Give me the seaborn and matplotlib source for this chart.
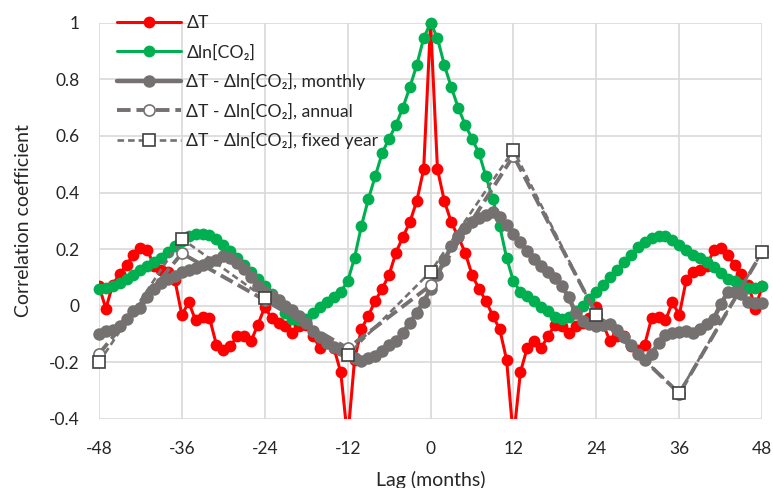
import numpy as np
import pandas as pd
import seaborn as sns
import matplotlib
matplotlib.use("Agg")
import matplotlib.pyplot as plt

sns.set_style("white")
plt.rcParams['font.family'] = ['Lato', 'DejaVu Sans']
plt.rcParams['axes.unicode_minus'] = False

# lags in months
lags = list(range(-48, 49))

# autocorrelation of dT
dT = [0.07, -0.01, 0.075, 0.112, 0.145, 0.18, 0.203, 0.198, 0.14, 0.125, 0.12, 0.09,
      -0.032, 0.012, -0.052, -0.038, -0.043, -0.137, -0.155, -0.143, -0.108, -0.108, -0.126, -0.067,
      -0.005, -0.043, -0.06, -0.073, -0.096, -0.073, -0.067, -0.108, -0.149, -0.123, -0.148, -0.235,
      -0.47, -0.19, -0.082, -0.035, 0.018, 0.06, 0.11, 0.188, 0.244, 0.295, 0.37, 0.482,
      1.0,
      0.482, 0.37, 0.295, 0.244, 0.188, 0.11, 0.06, 0.018, -0.035, -0.082, -0.19, -0.47,
      -0.235, -0.148, -0.123, -0.149, -0.108, -0.067, -0.073, -0.096, -0.073, -0.06, -0.043, -0.005,
      -0.067, -0.126, -0.108, -0.108, -0.143, -0.155, -0.137, -0.043, -0.038, -0.052, 0.012, -0.032,
      0.09, 0.12, 0.125, 0.14, 0.198, 0.203, 0.18, 0.145, 0.112, 0.075, -0.01, 0.07]

# autocorrelation of dln[CO2]
dco2 = [0.06, 0.062, 0.07, 0.08, 0.095, 0.11, 0.125, 0.14, 0.155, 0.17, 0.19, 0.21,
        0.23, 0.245, 0.255, 0.255, 0.25, 0.235, 0.215, 0.195, 0.17, 0.145, 0.12, 0.095,
        0.07, 0.04, 0.01, -0.025, -0.045, -0.05, -0.045, -0.025, -0.005, 0.015, 0.03, 0.05,
        0.086, 0.17, 0.283, 0.377, 0.458, 0.54, 0.59, 0.64, 0.70, 0.772, 0.85, 0.945,
        1.0,
        0.945, 0.85, 0.772, 0.70, 0.64, 0.59, 0.54, 0.458, 0.377, 0.283, 0.17, 0.086,
        0.05, 0.033, 0.018, -0.004, -0.02, -0.038, -0.046, -0.038, -0.02, 0.0, 0.024, 0.05,
        0.074, 0.103, 0.127, 0.156, 0.18, 0.209, 0.226, 0.238, 0.248, 0.245, 0.232, 0.215,
        0.197, 0.18, 0.168, 0.156, 0.138, 0.115, 0.094, 0.086, 0.074, 0.063, 0.063, 0.07]

# cross-correlation, monthly
cross_monthly = [-0.098, -0.09, -0.085, -0.07, -0.045, -0.02, -0.008, 0.03, 0.06, 0.08, 0.095, 0.105,
                 0.12, 0.125, 0.135, 0.145, 0.155, 0.16, 0.175, 0.17, 0.15, 0.13, 0.1, 0.07,
                 0.05, 0.035, 0.02, 0.0, -0.015, -0.035, -0.06, -0.09, -0.11, -0.13, -0.145, -0.155,
                 -0.17, -0.185, -0.196, -0.185, -0.178, -0.16, -0.14, -0.125, -0.095, -0.06, -0.025, 0.015,
                 0.06,
                 0.11, 0.16, 0.21, 0.245, 0.275, 0.295, 0.31, 0.322, 0.33, 0.315, 0.285, 0.255,
                 0.225, 0.195, 0.165, 0.14, 0.118, 0.098, 0.07, 0.03, -0.025, -0.055, -0.065, -0.07,
                 -0.067, -0.065, -0.085, -0.11, -0.14, -0.17, -0.19, -0.17, -0.13, -0.102, -0.096, -0.093,
                 -0.088, -0.095, -0.082, -0.065, -0.045, 0.005, 0.048, 0.05, 0.04, 0.015, 0.01, 0.01]

# yearly lags
year_lags = [-48, -36, -24, -12, 0, 12, 24, 36, 48]
cross_annual = [-0.17, 0.185, 0.02, -0.15, 0.072, 0.53, -0.03, -0.31, 0.19]
cross_fixed = [-0.20, 0.237, 0.027, -0.173, 0.12, 0.55, -0.033, -0.307, 0.191]

df_m = pd.DataFrame({'lag': lags, 'dT': dT, 'dco2': dco2, 'monthly': cross_monthly})
df_y = pd.DataFrame({'lag': year_lags, 'annual': cross_annual, 'fixed': cross_fixed})

gray = '#767171'

fig = plt.figure(figsize=(7.73, 4.88), dpi=100)
ax = fig.add_axes([0.128, 0.1414, 0.858, 0.8121])

sns.lineplot(data=df_m, x='lag', y='dT', ax=ax, color='#FF0000', lw=2.2,
             marker='o', markersize=8.5, markeredgewidth=0, label='ΔT', zorder=3)
sns.lineplot(data=df_m, x='lag', y='dco2', ax=ax, color='#00B050', lw=2.2,
             marker='o', markersize=8.5, markeredgewidth=0, label='Δln[CO₂]', zorder=4,
             clip_on=False)
sns.lineplot(data=df_m, x='lag', y='monthly', ax=ax, color=gray, lw=3.2,
             marker='o', markersize=9, markeredgewidth=0,
             label='ΔT - Δln[CO₂], monthly', zorder=5, clip_on=False)
sns.lineplot(data=df_y, x='lag', y='annual', ax=ax, color=gray, lw=2.8,
             dashes=False, linestyle=(0, (3.5, 1.5)),
             marker='o', markersize=8, markerfacecolor='white', markeredgecolor=gray,
             markeredgewidth=1.2, label='ΔT - Δln[CO₂], annual', zorder=6, clip_on=False)
sns.lineplot(data=df_y, x='lag', y='fixed', ax=ax, color=gray, lw=1.9,
             dashes=False, linestyle=(0, (2.5, 1.5)),
             marker='s', markersize=9, markerfacecolor='white', markeredgecolor='#404040',
             markeredgewidth=1.2, label='ΔT - Δln[CO₂], fixed year', zorder=7, clip_on=False)

ax.set_xlim(-48, 48)
ax.set_ylim(-0.4, 1.0)
ax.set_xticks(range(-48, 49, 12))
ax.set_yticks([-0.4, -0.2, 0, 0.2, 0.4, 0.6, 0.8, 1.0])
ax.set_yticklabels(['-0.4', '-0.2', '0', '0.2', '0.4', '0.6', '0.8', '1'])
ax.tick_params(axis='x', labelsize=12.5, length=0, pad=16)
ax.tick_params(axis='y', labelsize=12.5, length=0, pad=14)
ax.grid(True, color='#D9D9D9', lw=1.2)
ax.set_axisbelow(True)
for s in ax.spines.values():
    s.set_visible(False)

ax.set_xlabel('Lag (months)', fontsize=14, labelpad=10)
ax.set_ylabel('Correlation coefficient', fontsize=14, labelpad=12)

ax.legend(loc='upper left', bbox_to_anchor=(0.012, 1.045), frameon=False, fontsize=12.7,
          handlelength=3.6, handletextpad=0.3, labelspacing=0.72, borderaxespad=0.2)

fig.savefig('out.png', dpi=100)
